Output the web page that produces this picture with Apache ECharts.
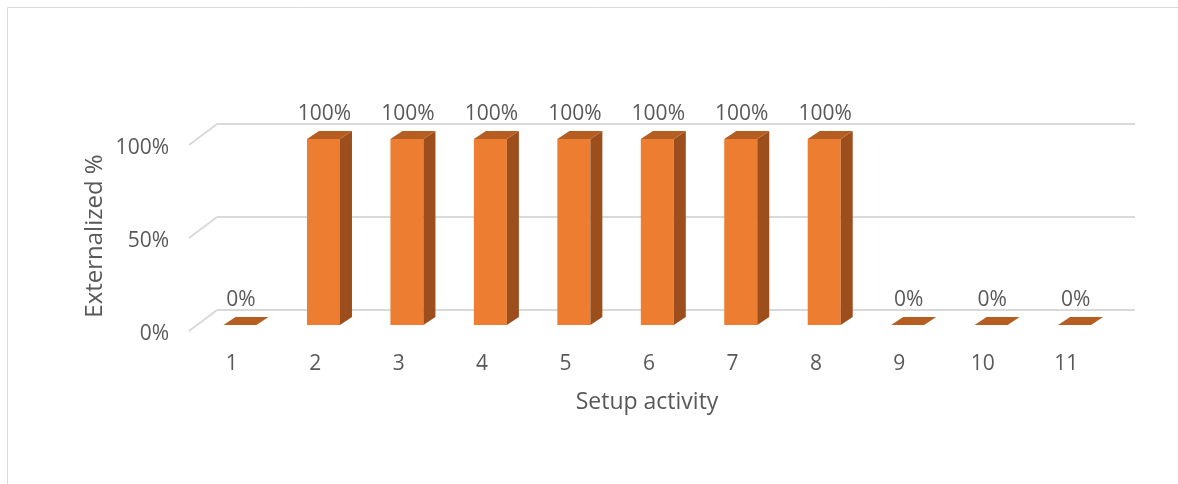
<!DOCTYPE html>
<html>
<head>
    <meta charset="utf-8"/>
    <title>Externalized setup activities</title>
    <script src="https://cdn.jsdelivr.net/npm/echarts@6/dist/echarts.min.js"></script>
    <style>
        html, body { margin: 0; padding: 0; background: #fff; }
        #main { width: 1178px; height: 484px; }
    </style>
</head>
<body>
<div id="main"></div>
<script type="text/javascript">
    // data
    var categories = ['1', '2', '3', '4', '5', '6', '7', '8', '9', '10', '11'];
    var externalized = [0, 100, 100, 100, 100, 100, 100, 100, 0, 0, 0];
    var yTicks = [0, 50, 100];

    // fake 3d: front plane is shifted from the back wall
    var FRONT_DX = -18.7, FRONT_DY = 15;   // bar front face vs back wall
    var DEPTH_DX = 12, DEPTH_DY = -8;      // bar depth
    var FLOOR_DX = -28, FLOOR_DY = 21;     // full floor depth
    var BAR_W = 33;

    var textColor = '#595959';
    var gridColor = '#D9D9D9';
    var fontFamily = 'Open Sans';
    var labelSize = 21;

    var myChart = echarts.init(document.getElementById('main'));

    function renderBar(params, api) {
        var i = api.value(0);
        var v = api.value(1);
        var top = api.coord([i, v]);
        var base = api.coord([i, 0]);
        var cx = top[0] + FRONT_DX;
        var x0 = cx - BAR_W / 2, x1 = cx + BAR_W / 2;
        var yT = top[1] + FRONT_DY, yB = base[1] + FRONT_DY;
        var children = [];
        if (yB - yT > 0.5) {
            children.push({
                type: 'rect',
                shape: {x: x0, y: yT, width: BAR_W, height: yB - yT},
                style: {fill: '#ED7D31'}
            });
            children.push({
                type: 'polygon',
                shape: {points: [[x1, yT], [x1 + DEPTH_DX, yT + DEPTH_DY], [x1 + DEPTH_DX, yB + DEPTH_DY], [x1, yB]]},
                style: {fill: '#9C4F1C'}
            });
        }
        children.push({
            type: 'polygon',
            shape: {points: [[x0, yT], [x0 + DEPTH_DX, yT + DEPTH_DY], [x1 + DEPTH_DX, yT + DEPTH_DY], [x1, yT]]},
            style: {fill: '#B65D22'}
        });
        children.push({
            type: 'text',
            style: {
                text: v + '%',
                x: cx + 1,
                y: yT + DEPTH_DY - 6,
                align: 'center',
                verticalAlign: 'bottom',
                fill: textColor,
                font: labelSize + 'px "' + fontFamily + '"'
            }
        });
        return {type: 'group', children: children};
    }

    // side wall gridline + tick label at its front end
    function renderDiag(params, api) {
        var v = api.value(0);
        var p = api.coord([0, v]);
        var x = params.coordSys.x;
        return {
            type: 'group',
            children: [{
                type: 'line',
                shape: {x1: x, y1: p[1], x2: x + FLOOR_DX, y2: p[1] + FLOOR_DY},
                style: {stroke: gridColor, lineWidth: 2}
            }, {
                type: 'text',
                style: {
                    text: v + '%',
                    x: x + FLOOR_DX - 20,
                    y: p[1] + FLOOR_DY + 3,
                    align: 'right',
                    verticalAlign: 'middle',
                    fill: textColor,
                    font: labelSize + 'px "' + fontFamily + '"'
                }
            }]
        };
    }

    var option = {
        backgroundColor: '#fff',
        animation: false,
        graphic: [{
            type: 'rect',
            shape: {x: 7.5, y: 7.5, width: 1300, height: 600},
            style: {fill: 'none', stroke: '#D9D9D9', lineWidth: 1},
            z: -1
        }],
        grid: {left: 217, right: 43, top: 124, bottom: 174},
        xAxis: {
            type: 'category',
            data: categories,
            axisLine: {show: false},
            axisTick: {show: false},
            axisLabel: {
                color: textColor,
                fontSize: labelSize,
                fontFamily: fontFamily,
                margin: 44,
                padding: [0, 54, 0, 0]
            },
            name: 'Setup activity',
            nameLocation: 'middle',
            nameGap: 81,
            nameTextStyle: {
                color: textColor,
                fontSize: 23,
                fontFamily: fontFamily,
                padding: [0, 58, 0, 0]
            }
        },
        yAxis: {
            type: 'value',
            min: 0,
            max: 100,
            interval: 50,
            axisLine: {show: false},
            axisTick: {show: false},
            splitLine: {lineStyle: {color: gridColor, width: 2}},
            axisLabel: {show: false},
            name: 'Externalized %',
            nameLocation: 'middle',
            nameGap: 110,
            nameRotate: 90,
            nameTextStyle: {
                color: textColor,
                fontSize: 24,
                fontFamily: fontFamily,
                padding: [0, 38, 0, 0]
            }
        },
        series: [{
            type: 'custom',
            renderItem: renderDiag,
            data: yTicks.map(function (t) { return [t]; }),
            silent: true,
            z: 1
        }, {
            type: 'custom',
            renderItem: renderBar,
            data: externalized.map(function (v, i) { return [i, v]; }),
            encode: {x: 0, y: 1},
            silent: true,
            z: 2
        }]
    };

    myChart.setOption(option);
</script>
</body>
</html>
